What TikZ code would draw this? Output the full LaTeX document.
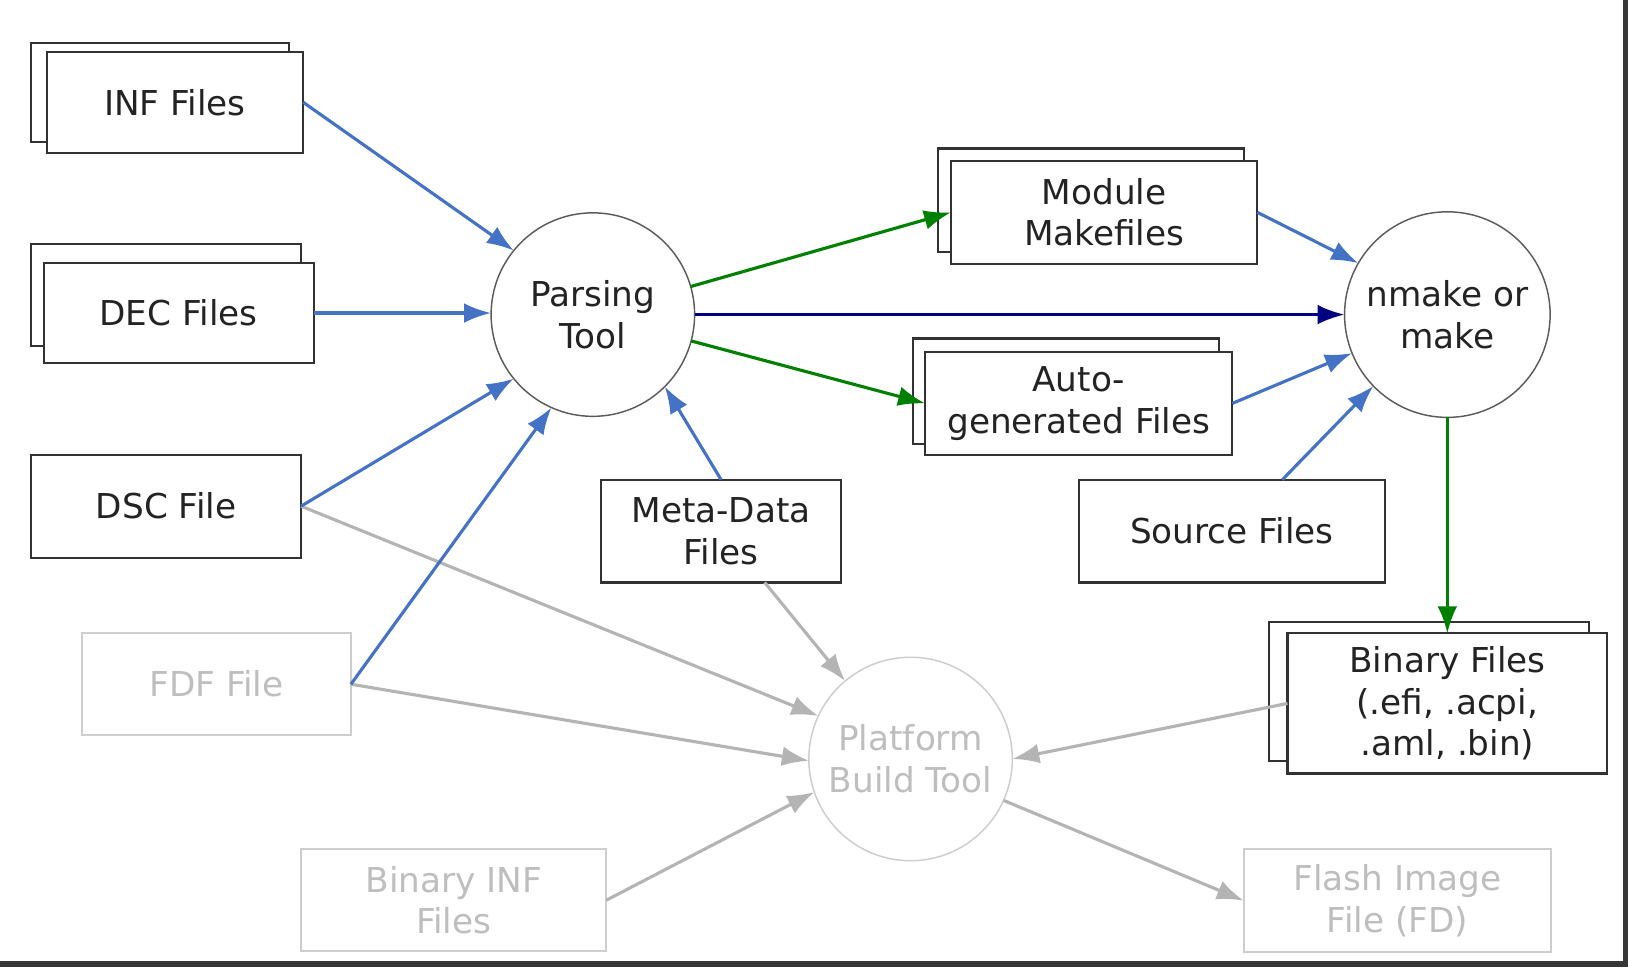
\documentclass[tikz,border=0pt]{standalone}
\usepackage{fontspec}
\setmainfont{DejaVu Sans}
\usetikzlibrary{arrows.meta,calc}
\definecolor{blueA}{RGB}{68,114,196}
\definecolor{greenA}{RGB}{0,128,0}
\definecolor{navyA}{RGB}{0,0,128}
\definecolor{greyA}{RGB}{180,180,180}
\definecolor{greyBox}{RGB}{205,205,205}
\definecolor{greyTxt}{RGB}{190,190,190}
\definecolor{darkTxt}{RGB}{35,35,35}
\definecolor{darkLine}{RGB}{50,50,50}
\definecolor{frameCol}{RGB}{55,55,55}
\begin{document}
\begin{tikzpicture}[x=0.5pt,y=-0.5pt,
  txt/.style={font=\fontsize{16.5pt}{20pt}\selectfont, align=center, text=darkTxt},
  filebox/.style={txt, rectangle, draw=darkLine, line width=1pt, fill=white, inner sep=0pt, outer sep=0pt},
  ghostbox/.style={filebox, draw=greyBox, text=greyTxt},
  tool/.style={txt, circle, draw=darkLine!80, line width=0.7pt, fill=white, inner sep=0pt, outer sep=0pt, minimum size=98pt},
  ghosttool/.style={tool, draw=greyBox, text=greyTxt},
  arr/.style={line width=1.5pt, -{Latex[length=13pt,width=9.5pt]}}
]
\useasboundingbox (0,0) rectangle (1568,931);
\fill[white] (0,0) rectangle (1568,931);

% nodes
\node[filebox, minimum width=124pt, minimum height=48pt] (infb) at (154,89) {};
\node[filebox, minimum width=123.5pt, minimum height=48.5pt] (inf) at (168.5,98.5) {INF Files};
\node[filebox, minimum width=130pt, minimum height=49pt] (decb) at (160,284) {};
\node[filebox, minimum width=130pt, minimum height=48.5pt] (dec) at (172,301.5) {DEC Files};
\node[filebox, minimum width=130pt, minimum height=49.5pt] (dsc) at (160,487.5) {DSC File};
\node[tool] (parse) at (571,303) {Parsing\\Tool};
\node[filebox, minimum width=147.5pt, minimum height=50pt] (modb) at (1050.5,193) {};
\node[filebox, minimum width=147.5pt, minimum height=49.5pt] (mod) at (1063.5,204.5) {Module\\Makefiles};
\node[filebox, minimum width=147.5pt, minimum height=51pt] (autob) at (1026.5,377) {};
\node[filebox, minimum width=148pt, minimum height=49.5pt] (auto) at (1039,388.5) {Auto-\\generated Files};
\node[tool, minimum size=99pt] (nmake) at (1394,303) {nmake or\\make};
\node[filebox, minimum width=147.5pt, minimum height=49.5pt] (src) at (1186.5,511.5) {Source Files};
\node[filebox, minimum width=115.5pt, minimum height=49.5pt] (meta) at (694.5,511.5) {Meta-Data\\Files};
\node[filebox, minimum width=154pt, minimum height=67pt] (binb) at (1376,666) {};
\node[filebox, minimum width=154pt, minimum height=67.5pt] (bin) at (1394,677.5) {Binary Files\\(.efi, .acpi,\\.aml, .bin)};
\node[ghostbox, minimum width=129.5pt, minimum height=49pt] (fdf) at (208.5,659) {FDF File};
\node[ghosttool] (plat) at (877,731) {Platform\\Build Tool};
\node[ghostbox, minimum width=147pt, minimum height=49pt] (bininf) at (437,867) {Binary INF\\Files};
\node[ghostbox, minimum width=148pt, minimum height=49.5pt] (flash) at (1346,867.5) {Flash Image\\File (FD)};

% grey connectors
\draw[arr, greyA] (dsc.east) -- (plat.155);
\draw[arr, greyA] (fdf.east) -- (plat.181);
\draw[arr, greyA] ([xshift=21pt]meta.south) -- (plat.130);
\draw[arr, greyA] (bininf.east) -- (plat.199);
\draw[arr, greyA] (bin.west) -- (plat.0);
\draw[arr, greyA] (plat.336) -- (flash.west);

% blue connectors
\draw[arr, blueA] (inf.east) -- (parse.141);
\draw[arr, blueA] (dec.east) -- (dec.east -| parse.west);
\draw[arr, blueA] (dsc.east) -- (parse.219);
\draw[arr, blueA] (fdf.east) -- (parse.246);
\draw[arr, blueA] (meta.north) -- (parse.315);
\draw[arr, blueA] (mod.east) -- (nmake.150);
\draw[arr, blueA] (auto.east) -- (nmake.202);
\draw[arr, blueA] ([xshift=24.3pt]src.north) -- (nmake.224);

% green connectors
\draw[arr, greenA] (parse.16) -- (mod.west);
\draw[arr, greenA] (parse.345) -- (auto.west);
\draw[arr, greenA] (nmake.south) -- (bin.north);

% navy connector
\draw[arr, navyA] (parse.east) -- (nmake.west);

% frame at right and bottom
\fill[frameCol] (1563,0) rectangle (1568,931);
\fill[frameCol] (0,926) rectangle (1568,931);
\end{tikzpicture}
\end{document}
